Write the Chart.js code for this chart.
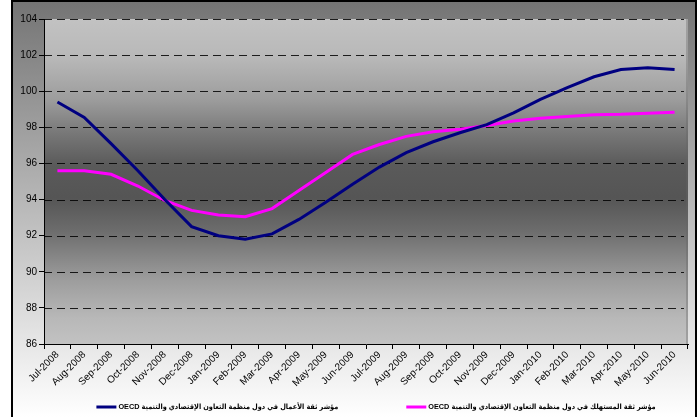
<!DOCTYPE html>
<html>
<head>
    <meta charset='utf-8'>
    <title>OECD</title>
    <style>
        body { margin: 0; background: #fff; }
    </style>
</head>
<body>
    <canvas id="myChart" width="700" height="417"></canvas>

    <script src="https://cdn.jsdelivr.net/npm/chart.js"></script>
    <script>
const months = ['Jul-2008', 'Aug-2008', 'Sep-2008', 'Oct-2008', 'Nov-2008', 'Dec-2008',
    'Jan-2009', 'Feb-2009', 'Mar-2009', 'Apr-2009', 'May-2009', 'Jun-2009',
    'Jul-2009', 'Aug-2009', 'Sep-2009', 'Oct-2009', 'Nov-2009', 'Dec-2009',
    'Jan-2010', 'Feb-2010', 'Mar-2010', 'Apr-2010', 'May-2010', 'Jun-2010'];

const businessConfidence = [99.4, 98.55, 97.1, 95.6, 94.0, 92.5, 92.0, 91.8, 92.1, 92.9, 93.85, 94.85,
    95.8, 96.6, 97.2, 97.7, 98.15, 98.8, 99.55, 100.2, 100.8, 101.2, 101.3, 101.2];
const consumerConfidence = [95.6, 95.6, 95.4, 94.75, 93.95, 93.4, 93.15, 93.05, 93.5, 94.5, 95.5, 96.5,
    97.05, 97.5, 97.75, 97.9, 98.1, 98.35, 98.5, 98.6, 98.7, 98.72, 98.78, 98.83];

const businessLabel = 'مؤشر ثقة الأعمال في دول منظمة التعاون الإقتصادي والتنمية OECD';
const consumerLabel = 'مؤشر ثقة المستهلك في دول منظمة التعاون الإقتصادي والتنمية OECD';

const yMin = 86;
const yMax = 104;
const yStep = 2;

// frame + gradient backgrounds
const backgroundPlugin = {
    id: 'backgrounds',
    beforeDraw(chart) {
        const ctx = chart.ctx;
        const a = chart.chartArea;
        ctx.save();
        ctx.fillStyle = '#fff';
        ctx.fillRect(0, 0, chart.width, chart.height);

        const outer = ctx.createLinearGradient(0, 1, 0, chart.height);
        outer.addColorStop(0, '#747474');
        outer.addColorStop(1, '#ffffff');
        ctx.fillStyle = outer;
        ctx.fillRect(12, 1, 684, chart.height);
        ctx.strokeStyle = '#000';
        ctx.lineWidth = 2;
        ctx.strokeRect(12, 1, 684, chart.height + 5);

        const inner = ctx.createLinearGradient(0, a.top, 0, a.bottom);
        inner.addColorStop(0, '#c2c2c2');
        inner.addColorStop(0.12, '#b8b8b8');
        inner.addColorStop(0.25, '#9c9c9c');
        inner.addColorStop(0.35, '#787878');
        inner.addColorStop(0.45, '#5a5a5a');
        inner.addColorStop(0.55, '#555555');
        inner.addColorStop(0.65, '#6c6c6c');
        inner.addColorStop(0.8, '#9c9c9c');
        inner.addColorStop(0.92, '#b8b8b8');
        inner.addColorStop(1, '#c2c2c2');
        ctx.fillStyle = inner;
        ctx.fillRect(a.left, a.top, a.right - a.left, a.bottom - a.top);
        // thin side wall on the right
        ctx.fillStyle = 'rgba(100,100,100,0.35)';
        ctx.fillRect(a.right - 2, a.top, 2, a.bottom - a.top);
        ctx.restore();
    }
};

// dashed horizontal gridlines at the y scale's ticks
const dashedGridPlugin = {
    id: 'dashedGrid',
    beforeDatasetsDraw(chart) {
        const ctx = chart.ctx;
        const a = chart.chartArea;
        const yScale = chart.scales.y;
        ctx.save();
        ctx.strokeStyle = 'rgba(0,0,0,0.85)';
        ctx.lineWidth = 1;
        ctx.setLineDash([8, 5]);
        yScale.ticks.forEach(t => {
            if (t.value === yMin) return;
            const py = Math.round(yScale.getPixelForValue(t.value)) + 0.5;
            ctx.beginPath();
            ctx.moveTo(a.left, py);
            ctx.lineTo(a.right - 4, py);
            ctx.stroke();
        });
        ctx.restore();
    }
};

// legend below the axis, text right-to-left
const legendPlugin = {
    id: 'arabicLegend',
    afterDraw(chart) {
        const ctx = chart.ctx;
        const sets = chart.data.datasets;
        const lineLen = 20, gap = 68, centre = 376, y = 407;
        ctx.save();
        ctx.font = 'bold 7.3px "Liberation Sans", "DejaVu Sans Condensed", "DejaVu Sans"';
        ctx.direction = 'rtl';
        ctx.textAlign = 'left';
        ctx.textBaseline = 'middle';
        const widths = sets.map(ds => lineLen + 2 + ctx.measureText(ds.label).width);
        const total = widths.reduce((s, w) => s + w, 0) + gap * (sets.length - 1);
        let x = centre - total / 2;
        sets.forEach((ds, i) => {
            ctx.strokeStyle = ds.borderColor;
            ctx.lineWidth = 3;
            ctx.beginPath();
            ctx.moveTo(x, y);
            ctx.lineTo(x + lineLen, y);
            ctx.stroke();
            ctx.fillStyle = '#000';
            ctx.fillText(ds.label, x + lineLen + 2, y);
            x += widths[i] + gap;
        });
        ctx.restore();
    }
};

const config = {
    type: 'line',
    data: {
        labels: months,
        datasets: [
            {
                label: businessLabel,
                data: businessConfidence,
                borderColor: '#000080',
                backgroundColor: '#000080',
                borderWidth: 3,
                pointRadius: 0,
                tension: 0
            },
            {
                label: consumerLabel,
                data: consumerConfidence,
                borderColor: '#ff00ff',
                backgroundColor: '#ff00ff',
                borderWidth: 3,
                pointRadius: 0,
                tension: 0
            }
        ]
    },
    options: {
        responsive: false,
        animation: false,
        devicePixelRatio: 1,
        layout: { padding: { left: 0, top: 19, right: 12, bottom: 0 } },
        plugins: {
            legend: { display: false },
            tooltip: { enabled: false }
        },
        scales: {
            x: {
                offset: true,
                grid: {
                    offset: true,
                    drawOnChartArea: false,
                    drawTicks: true,
                    tickLength: 5,
                    tickColor: '#000'
                },
                border: { display: true, color: '#000', width: 1 },
                ticks: {
                    color: '#000',
                    font: { family: 'Arial', size: 10 },
                    maxRotation: 45,
                    minRotation: 45,
                    autoSkip: false,
                    padding: 0
                },
                afterFit(scale) { scale.height = 73; }
            },
            y: {
                min: yMin,
                max: yMax,
                grid: {
                    drawOnChartArea: false,
                    drawTicks: true,
                    tickLength: 5,
                    tickColor: '#000'
                },
                border: { display: true, color: '#000', width: 1 },
                ticks: {
                    stepSize: yStep,
                    color: '#000',
                    font: { family: 'Arial', size: 10 },
                    padding: 2
                },
                afterFit(scale) { scale.width = 44; }
            }
        }
    },
    plugins: [backgroundPlugin, dashedGridPlugin, legendPlugin]
};

const chart = new Chart(document.getElementById('myChart'), config);
    </script>
</body>
</html>
